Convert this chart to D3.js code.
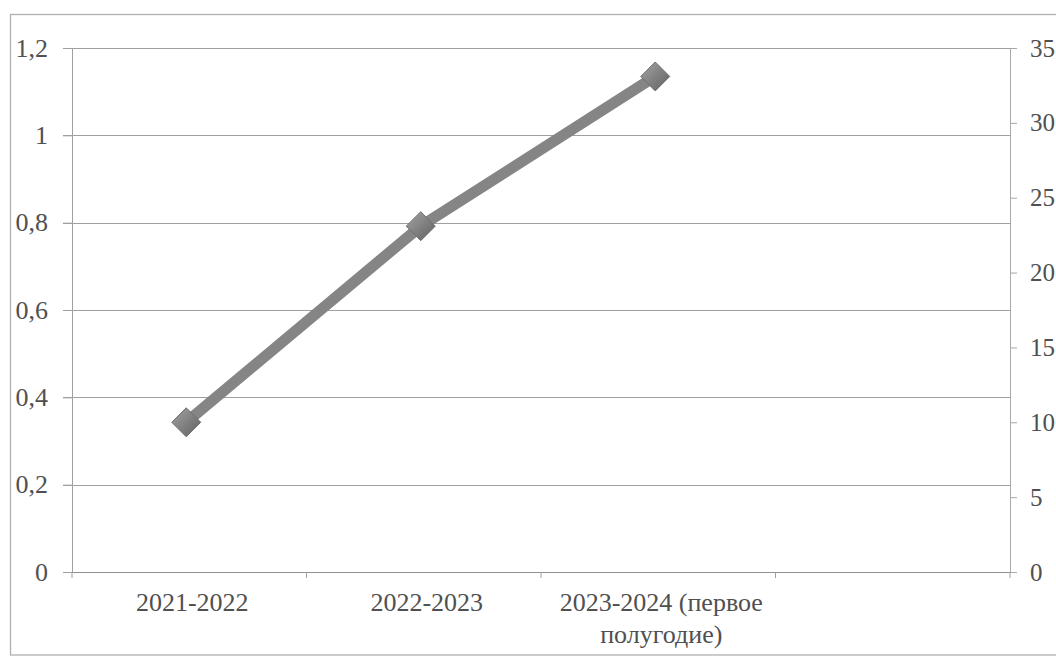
<!DOCTYPE html>
<html>
<head>
<meta charset="utf-8">
<script src="https://cdn.jsdelivr.net/npm/d3@7/dist/d3.min.js"></script>
<style>
  html, body { margin: 0; padding: 0; background: #fff; }
  svg { display: block; }
  svg text { font-family: "Liberation Serif", "DejaVu Serif", serif; }
</style>
</head>
<body>
<svg id="chart" width="1056" height="657"></svg>
<script>
const categories = ["2021-2022", "2022-2023", "2023-2024 (первое полугодие)", ""];
const categoryLines = [["2021-2022"], ["2022-2023"], ["2023-2024 (первое", "полугодие)"], []];
const seriesValues = [10, 23.1, 33.1];
const leftTicks = [0, 0.2, 0.4, 0.6, 0.8, 1, 1.2];
const rightTicks = [0, 5, 10, 15, 20, 25, 30, 35];

const FONT = "'Liberation Serif', 'DejaVu Serif', serif";
const FS = 26;
const svg = d3.select("#chart");
const m = { left: 72, right: 1010, top: 48, bottom: 572 };

const defs = svg.append("defs");
const grad = defs.append("linearGradient").attr("id", "mk")
  .attr("x1", "0").attr("y1", "0").attr("x2", "1").attr("y2", "1");
grad.append("stop").attr("offset", "0%").attr("stop-color", "#a4a4a4");
grad.append("stop").attr("offset", "55%").attr("stop-color", "#7e7e7e");
grad.append("stop").attr("offset", "100%").attr("stop-color", "#626262");

// outer border
svg.append("rect").attr("x", 10.5).attr("y", 14.5).attr("width", 1060).attr("height", 640.5)
  .attr("fill", "none").attr("stroke", "#b0b0b0").attr("stroke-width", 1.3);

const x = d3.scaleBand().domain(categories.map((c, i) => i)).range([m.left, m.right]).padding(0);
const yL = d3.scaleLinear().domain([0, 1.2]).range([m.bottom, m.top]);
const yR = d3.scaleLinear().domain([0, 35]).range([m.bottom, m.top]);

const fmt = d => String(d).replace(".", ",");

// gridlines
svg.append("g").selectAll("line").data(leftTicks).join("line")
  .attr("x1", m.left - 9).attr("x2", m.right)
  .attr("y1", d => Math.round(yL(d)) + 0.5).attr("y2", d => Math.round(yL(d)) + 0.5)
  .attr("stroke", "#a0a0a0").attr("stroke-width", 1);

// left axis
const gL = svg.append("g").attr("transform", `translate(${m.left},0)`)
  .call(d3.axisLeft(yL).tickValues(leftTicks).tickFormat(fmt).tickSize(9).tickPadding(15));
gL.attr("font-family", null).attr("font-size", null);
gL.select(".domain").attr("stroke", "#a0a0a0");
gL.selectAll(".tick line").attr("stroke", "#a0a0a0");
gL.selectAll("text").style("font-family", FONT).style("font-size", FS + "px").attr("fill", "#505050");

// right axis
const gR = svg.append("g").attr("transform", `translate(${m.right},0)`)
  .call(d3.axisRight(yR).tickValues(rightTicks).tickFormat(fmt).tickSize(7).tickPadding(13));
gR.attr("font-family", null).attr("font-size", null);
gR.select(".domain").attr("stroke", "#a8a8a8");
gR.selectAll(".tick line").attr("stroke", "#a8a8a8");
gR.selectAll("text").style("font-family", FONT).style("font-size", "25px").attr("fill", "#505050");

// x axis
const gX = svg.append("g").attr("transform", `translate(0,${m.bottom})`);
gX.append("line").attr("x1", m.left).attr("x2", m.right).attr("y1", 0.5).attr("y2", 0.5).attr("stroke", "#909090");
const bounds = categories.map((c, i) => x(i)).concat([m.right]);
gX.selectAll("line.tk").data(bounds).join("line").attr("class", "tk")
  .attr("x1", d => d).attr("x2", d => d).attr("y1", 0).attr("y2", 6).attr("stroke", "#a0a0a0");
gX.selectAll("text").data(categoryLines).join("text")
  .attr("x", (d, i) => x(i) + x.bandwidth() / 2 + 3)
  .attr("y", 21)
  .attr("text-anchor", "middle")
  .style("font-family", FONT).style("font-size", FS + "px").attr("fill", "#505050")
  .each(function(lines) {
    const tx = d3.select(this).attr("x");
    d3.select(this).selectAll("tspan").data(lines).join("tspan")
      .attr("x", tx)
      .attr("dy", (d, j) => j === 0 ? "0.71em" : "1.22em")
      .text(d => d);
  });

// line
const pts = seriesValues.map((v, i) => [x(i) + x.bandwidth() / 2 - 3, yR(v)]);
svg.append("path").attr("d", d3.line()(pts))
  .attr("fill", "none").attr("stroke", "#858585").attr("stroke-width", 11)
  .attr("stroke-linejoin", "round").attr("stroke-linecap", "round");

// markers
const s = 14.5;
svg.append("g").selectAll("path").data(pts).join("path")
  .attr("d", d => `M${d[0]},${d[1] - s}L${d[0] + s},${d[1]}L${d[0]},${d[1] + s}L${d[0] - s},${d[1]}Z`)
  .attr("fill", "url(#mk)").attr("stroke", "#6e6e6e").attr("stroke-width", 1).attr("stroke-linejoin", "round");
</script>
</body>
</html>
